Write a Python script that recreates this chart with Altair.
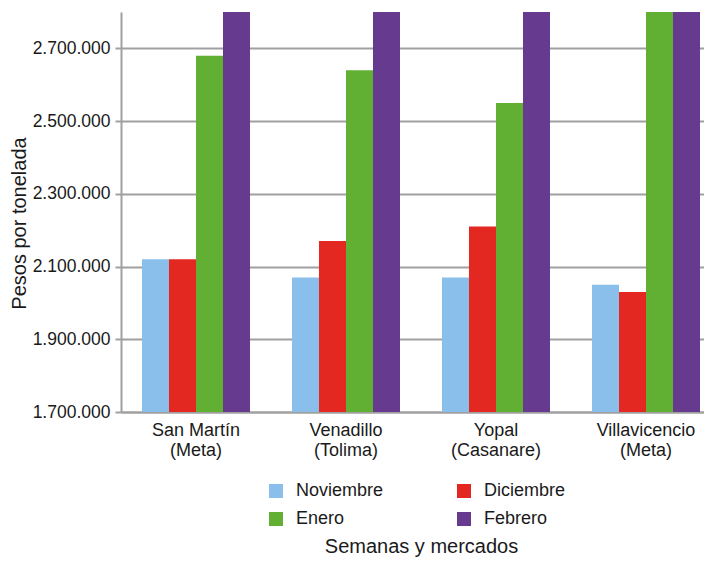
import altair as alt
import pandas as pd

mercados = ["San Martín|(Meta)", "Venadillo|(Tolima)", "Yopal|(Casanare)", "Villavicencio|(Meta)"]
meses = ["Noviembre", "Diciembre", "Enero", "Febrero"]
colores = ["#89bfea", "#e32822", "#62b033", "#663a8e"]

noviembre = [2120000, 2070000, 2070000, 2050000]
diciembre = [2120000, 2170000, 2210000, 2030000]
enero = [2680000, 2640000, 2550000, 2900000]
febrero = [3000000, 3000000, 3000000, 3000000]

rows = []
for mes, serie in zip(meses, [noviembre, diciembre, enero, febrero]):
    for m, v in zip(mercados, serie):
        rows.append({"mercado": m, "mes": mes, "valor": v})
df = pd.DataFrame(rows)

FONT = "Liberation Sans"
TXT = "#1a1a1a"
GRAY = "#a0a0a0"

chart = alt.Chart(df).mark_bar(clip=True).encode(
    x=alt.X("mercado:N", sort=mercados,
            scale=alt.Scale(paddingInner=0.28, paddingOuter=0.0833, align=0.84),
            axis=alt.Axis(title="Semanas y mercados", labelAngle=0,
                          labelExpr="split(datum.label, '|')",
                          labelFontSize=18, labelFont=FONT, labelColor=TXT,
                          labelLineHeight=20, labelPadding=9,
                          ticks=False, domainColor=GRAY, domainWidth=2,
                          titleFont=FONT, titleFontSize=20, titleFontWeight="normal",
                          titleColor=TXT, titleBaseline="alphabetic", titleY=140,
                          titleX=300)),
    xOffset=alt.XOffset("mes:N", sort=meses, scale=alt.Scale(paddingInner=0, paddingOuter=0)),
    y=alt.Y("valor:Q",
            scale=alt.Scale(domain=[1700000, 2800000], zero=False, nice=False),
            axis=alt.Axis(title="Pesos por tonelada",
                          values=[1700000, 1900000, 2100000, 2300000, 2500000, 2700000],
                          labelExpr="replace(format(datum.value, ',.0f'), regexp(',', 'g'), '.')",
                          labelFontSize=17.5, labelFont=FONT, labelColor=TXT,
                          labelPadding=5, tickSize=6, tickColor=GRAY, tickWidth=2,
                          domainColor=GRAY, domainWidth=2,
                          grid=True, gridColor=GRAY, gridWidth=2,
                          titleFont=FONT, titleFontSize=20, titleFontWeight="normal",
                          titleColor=TXT, titleAngle=270, titleBaseline="alphabetic",
                          titleAlign="center", titleX=-96, titleY=211)),
    color=alt.Color("mes:N", sort=meses,
                    scale=alt.Scale(domain=meses, range=colores),
                    legend=alt.Legend(title=None, orient="none", legendX=146, legendY=470,
                                      columns=2, columnPadding=71, rowPadding=10,
                                      symbolType="square", symbolSize=196,
                                      symbolStrokeWidth=0, labelOffset=11,
                                      labelFontSize=18, labelFont=FONT, labelColor=TXT,
                                      padding=0, direction="horizontal")),
).properties(
    width=583, height=400,
    autosize=alt.AutoSizeParams(type="none"),
    padding={"left": 113, "top": 4, "right": 0, "bottom": 145},
).configure_view(stroke=None)

chart.save("out.html", embed_options={"renderer": "svg", "actions": False})
